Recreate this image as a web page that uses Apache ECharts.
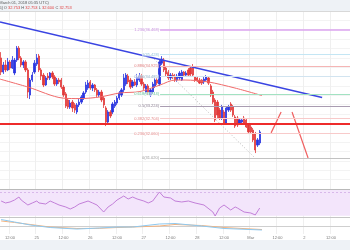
<!DOCTYPE html>
<html><head><meta charset="utf-8">
<script src="https://cdn.jsdelivr.net/npm/echarts@6/dist/echarts.min.js"></script>
<style>html,body{margin:0;padding:0;background:#fff}#c{width:350px;height:250px}</style>
</head><body><div id="c"></div><script>
// hourly candles, category 0 = Feb 24 08:00
const opens = [35.28,34.68,34.98,34.77,35.11,34.85,34.64,35.19,35.70,35.28,
34.98,35.11,34.77,33.70,34.34,34.68,35.02,35.36,34.77,34.55,
34.13,34.51,34.43,34.64,34.47,34.17,34.34,34.34,34.04,33.75,
33.49,33.19,33.40,33.28,32.98,33.28,33.40,33.57,33.83,34.00,
34.26,34.00,34.13,33.92,33.70,33.83,33.57,33.15,32.55,32.98,
32.98,33.23,33.36,33.57,33.70,33.92,34.17,34.51,34.34,34.09,
34.26,34.13,34.34,34.51,34.17,33.83,34.09,33.70,33.83,34.09,
34.34,34.17,35.06,35.19,34.85,34.68,34.43,34.55,34.51,34.34,
34.43,34.34,34.68,34.55,34.77,34.85,34.89,34.47,34.43,34.34,
34.34,34.26,34.34,34.43,34.09,33.83,33.49,33.40,33.06,32.72,
32.98,32.51,33.06,33.32,33.19,32.77,32.72,32.51,32.55,32.72,
32.64,32.43,32.34,32.21,32.04,31.57,31.66];
const closes = [34.68,34.98,34.77,35.11,34.85,35.19,35.19,35.70,35.28,34.98,
35.11,34.77,33.83,34.34,34.55,35.06,35.28,34.77,34.51,34.13,
34.43,34.43,34.64,34.47,34.17,34.34,34.26,34.04,33.70,33.23,
33.19,33.36,33.15,33.06,33.28,33.40,33.62,33.79,34.13,34.21,
34.00,34.13,33.92,33.70,33.83,33.49,33.28,32.55,32.98,32.81,
33.32,33.40,33.57,33.79,33.92,34.43,34.55,34.26,34.04,34.26,
34.13,34.47,34.51,34.17,34.00,34.09,33.83,33.92,34.17,34.34,
34.21,35.11,35.23,34.77,34.60,34.43,34.55,34.47,34.34,34.51,
34.64,34.68,34.55,34.64,34.55,34.60,34.55,34.34,34.30,34.21,
34.21,34.38,34.47,34.21,33.70,33.40,32.64,32.85,32.72,33.19,
32.51,33.15,33.19,33.06,32.85,32.38,32.43,32.64,32.64,32.51,
32.34,32.13,32.13,31.79,31.36,31.79,32.13];
const highs = [35.53,35.11,35.19,35.28,35.19,35.36,35.28,35.79,35.79,35.36,
35.19,35.19,34.85,34.43,34.68,35.19,35.45,35.45,34.85,34.64,
34.51,34.64,34.68,34.72,34.55,34.43,34.43,34.43,34.13,33.83,
33.57,33.49,33.49,33.36,33.36,33.53,33.70,33.87,34.26,34.34,
34.34,34.21,34.17,34.00,33.92,33.92,33.66,33.23,33.06,33.06,
33.40,33.49,33.66,33.87,34.00,34.60,34.64,34.60,34.43,34.34,
34.38,34.60,34.64,34.60,34.26,34.17,34.17,34.00,34.26,34.43,
34.43,35.19,35.36,35.28,34.94,34.77,34.64,34.64,34.60,34.60,
34.72,34.77,34.72,34.72,34.85,34.94,35.02,34.51,34.47,34.43,
34.38,34.47,34.55,34.51,34.17,33.92,33.57,33.49,33.15,33.28,
33.06,33.23,33.28,33.40,33.28,32.85,32.81,32.72,32.68,32.81,
32.72,32.51,32.43,32.30,32.13,31.87,32.21];
const lows = [34.55,34.60,34.68,34.72,34.77,34.81,34.55,35.11,35.19,34.89,
34.85,34.68,33.57,33.53,34.26,34.60,34.94,34.68,34.34,34.04,
34.09,34.34,34.34,34.38,34.09,34.09,34.17,33.96,33.62,33.15,
33.11,33.11,32.98,32.94,32.89,33.19,33.32,33.49,33.75,33.92,
33.92,33.87,33.83,33.62,33.62,33.40,33.15,32.38,32.47,32.72,
32.89,33.15,33.28,33.49,33.62,33.83,34.09,34.17,33.96,34.00,
34.09,34.04,34.26,34.09,33.92,33.75,33.70,33.62,33.75,34.00,
34.13,34.09,34.98,34.68,34.51,34.34,34.34,34.38,34.26,34.26,
34.34,34.30,34.47,34.51,34.47,34.51,34.47,34.26,34.26,34.17,
34.13,34.17,34.30,34.13,33.62,33.32,32.55,32.72,32.64,32.64,
32.43,32.47,32.98,32.98,32.77,32.30,32.34,32.47,32.47,32.43,
32.30,32.04,32.04,31.70,31.23,31.49,31.57];

// moving average [slot, price]
const maLine = [[-0.5,34.38],[12.1,34.04],[27.8,33.57],[35.4,33.55],[44.4,33.62],[53.3,33.79],[62.3,33.85],[71.3,34.13],[78,34.34],[82.5,34.34],[92.8,34.26],[104.9,34.00],[117,33.68]];
const trendLine = [[-0.5,36.81],[144,33.60]];
const fibDiagonal = [[66.8,35.40],[113.9,31.02]];
const projUp = [[121.1,32.09],[125.6,32.98]];
const projDown = [[130.5,32.98],[137.7,31.02]];
const supportPrice = 32.468;
const fibLevels = [1.236,1,0.886,0.786,0.618,0.5,0.382,0.236,0];
const fibPrices = [36.468,35.428,34.925,34.485,33.744,33.224,32.704,32.060,31.020];
const fibStart = 71.3;

const rsi = [[0,55.3],[2,51.9],[4,53.6],[6,57.0],[8,62.2],[9,57.0],[12,48.4],[14,51.9],[16,55.3],[17,51.9],[20,50.1],[22,55.3],[24,51.9],[26,48.4],[29,45.0],[31,41.5],[33,45.0],[35,50.1],[39,55.3],[41,51.9],[43,48.4],[46,36.3],[48,45.0],[50,50.1],[52,57.0],[55,63.9],[57,58.8],[59,62.2],[61,58.8],[64,55.3],[66,51.9],[68,55.3],[71,70.8],[73,62.2],[76,60.5],[78,55.3],[81,53.6],[84,55.3],[87,51.9],[91,48.4],[95,36.3],[96,29.4],[98,43.2],[100,48.4],[103,39.8],[105,45.0],[106,43.2],[109,36.3],[112,34.6],[114,31.2],[116,43.2]];
const macd = [[0,0.81],[6,0.5],[13,0.13],[22,-0.19],[34,-0.38],[44,-0.25],[52,-0.13],[59,-0.13],[71,0.25],[78,0.31],[90,0],[100,-0.31],[117,-0.5]];
const signal = [[0,0.63],[6,0.44],[13,0.19],[22,-0.13],[34,-0.31],[44,-0.29],[52,-0.19],[59,-0.13],[71,0],[78,0.19],[90,0.06],[100,-0.19],[117,-0.44]];

const tickLabels = ['12:00','25','12:00','26','12:00','27','12:00','28','12:00','Mar','12:00','2','12:00'];
const firstTick = 4, tickStep = 12, N = 157;
const categories = Array.from({length:N}, (_, i) => {
  const d = new Date(Date.UTC(2018,1,24,8) + i*3600000);
  return d.toISOString().slice(5,16);
});

const F = 'Liberation Sans';
const showTick = (i) => i >= firstTick && (i - firstTick) % tickStep === 0;
const splitL = {show:true, interval:(i)=>showTick(i), lineStyle:{color:'#efefef', width:1}};

const fibStyle = [
  ['#dba3ef','#c58ddd',1.5],['#c4e6f4','#93c3da',1],['#f5b5b5','#de7b7b',1],['#d2e4f0','#8eb0c8',1],
  ['#a2e2c2','#5fc293',1],['#a99cb1','#877b8e',1],['#f8caca','#e48a8a',1],['#f8caca','#e48a8a',1],['#c2c2c2','#9a9a9a',1]
];
const fibMark = fibLevels.map((lv, k) => [
  {coord:[fibStart, fibPrices[k]], lineStyle:{color:fibStyle[k][0], width:fibStyle[k][2], type:'solid'},
   label:{show:true, position:'start', distance:1, formatter: lv + '(' + fibPrices[k].toFixed(3) + ')',
     color:fibStyle[k][1], fontSize:4, fontFamily:F, backgroundColor:'rgba(255,255,255,0.6)'}},
  {coord:[156.5, fibPrices[k]]}
]);

const candleData = opens.map((o, i) => [o, closes[i], lows[i], highs[i]]);

const option = {
  animation:false,
  grid:[
    {left:0,right:0,top:11,height:178},
    {left:0,right:0,top:189,height:29},
    {left:0,right:0,top:218,height:16}
  ],
  xAxis:[
    {type:'category',gridIndex:0,data:categories,boundaryGap:true,axisLine:{show:false},axisTick:{show:false},axisLabel:{show:false},splitLine:splitL},
    {type:'category',gridIndex:1,data:categories,boundaryGap:true,axisLine:{show:false},axisTick:{show:false},axisLabel:{show:false},splitLine:splitL},
    {type:'category',gridIndex:2,data:categories,boundaryGap:true,axisLine:{show:true,lineStyle:{color:'#cfcfcf'}},axisTick:{show:false},
      axisLabel:{show:true,interval:(i)=>showTick(i),formatter:(v,i)=>tickLabels[(i-firstTick)/tickStep],fontSize:4,color:'#777',margin:2,fontFamily:F},splitLine:splitL},
    {type:'value',gridIndex:0,min:-0.5,max:156.5,show:false}
  ],
  yAxis:[
    {type:'value',gridIndex:0,min:29.70,max:37.28,show:false},
    {type:'value',gridIndex:0,min:0,max:19,interval:1,axisLabel:{show:false},axisLine:{show:false},axisTick:{show:false},splitLine:{show:true,lineStyle:{color:'#f3f3f3'}}},
    {type:'value',gridIndex:1,min:26,max:76,show:false},
    {type:'value',gridIndex:2,min:-1,max:1,show:false}
  ],
  graphic:[
    {type:'rect',shape:{x:0,y:0,width:350,height:11},style:{fill:'#eef2f6'},z:100},
    {type:'rect',shape:{x:0,y:240,width:350,height:10},style:{fill:'#eef2f6'},z:100},
    {type:'line',shape:{x1:0,y1:11.5,x2:350,y2:11.5},style:{stroke:'#d8d8d8',lineWidth:1},z:100},
    {type:'line',shape:{x1:0,y1:189.5,x2:350,y2:189.5},style:{stroke:'#b9b9b9',lineWidth:1},z:100},
    {type:'line',shape:{x1:0,y1:217.5,x2:350,y2:217.5},style:{stroke:'#c6c6c6',lineWidth:1},z:100},
    {type:'text',x:-2,y:1,z:101,style:{text:'(March 01, 2018 05:35 UTC)',fontSize:4,fill:'#555',fontFamily:F}},
    {type:'text',x:-2,y:6,z:101,style:{text:'{a|%] O }{b|32.753}{a| H }{b|32.753}{a| L }{b|32.600}{a| C }{b|32.753}',fontSize:4,fontFamily:F,
      rich:{a:{fill:'#555',fontSize:4,fontFamily:F},b:{fill:'#e04040',fontSize:4,fontFamily:F}}}}
  ],
  series:[
    {type:'line',xAxisIndex:3,yAxisIndex:0,data:[],silent:true,
      markLine:{symbol:'none',silent:true,animation:false,data:fibMark.concat([
        [{coord:[-0.5,supportPrice],lineStyle:{color:'#ee2b2b',width:2,type:'solid'},label:{show:false}},{coord:[156.5,supportPrice]}]
      ])}},
    {type:'line',xAxisIndex:3,yAxisIndex:0,data:fibDiagonal,symbol:'none',lineStyle:{color:'#b8b8b8',width:1,type:[1,2]},silent:true},
    {type:'candlestick',xAxisIndex:0,yAxisIndex:0,data:candleData,barWidth:1.8,
      itemStyle:{color:'#2a35e0',color0:'#e23a3a',borderColor:'#2a35e0',borderColor0:'#e23a3a',borderWidth:0.8}},
    {type:'line',xAxisIndex:3,yAxisIndex:0,data:maLine,symbol:'none',smooth:0.3,lineStyle:{color:'#f06a6a',width:1}},
    {type:'line',xAxisIndex:3,yAxisIndex:0,data:trendLine,symbol:'none',lineStyle:{color:'#3a44e2',width:1.5}},
    {type:'line',xAxisIndex:3,yAxisIndex:0,data:projUp,symbol:'none',lineStyle:{color:'#f06060',width:1.2}},
    {type:'line',xAxisIndex:3,yAxisIndex:0,data:projDown,symbol:'none',lineStyle:{color:'#f06060',width:1.2}},
    {type:'line',xAxisIndex:1,yAxisIndex:2,data:rsi,symbol:'none',lineStyle:{color:'#c27fd8',width:1},
      markArea:{silent:true,itemStyle:{color:'#f3e5fb'},data:[[{yAxis:30},{yAxis:76}]]},
      markLine:{silent:true,symbol:'none',label:{show:false},lineStyle:{color:'#d8b8ea',type:[2,2],width:1},data:[{yAxis:70}]}},
    {type:'line',xAxisIndex:2,yAxisIndex:3,data:signal,symbol:'none',lineStyle:{color:'#f4b27d',width:1}},
    {type:'line',xAxisIndex:2,yAxisIndex:3,data:macd,symbol:'none',lineStyle:{color:'#8ec8ef',width:1}}
  ]
};
const chart = echarts.init(document.getElementById('c'));
chart.setOption(option);
</script></body></html>
